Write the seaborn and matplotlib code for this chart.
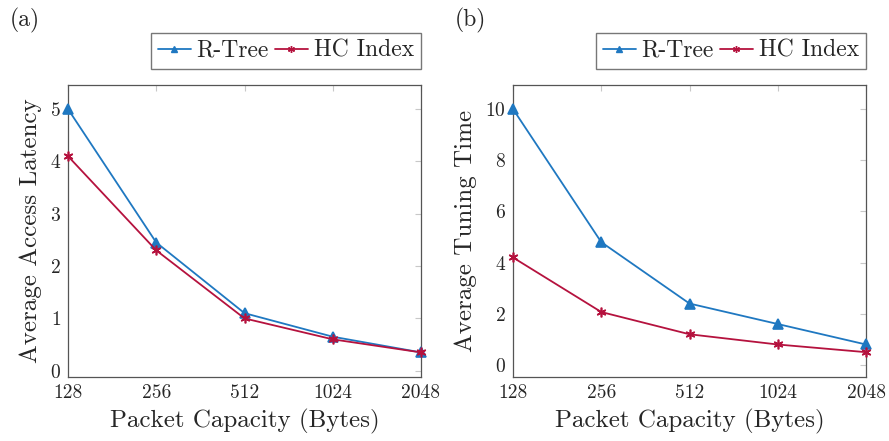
import pandas as pd
import matplotlib.pyplot as plt
import seaborn as sns

# packet capacities (bytes)
capacity = [128, 256, 512, 1024, 2048]

# (a) average access latency
latency_rtree = [5.0, 2.45, 1.1, 0.65, 0.35]
latency_hc = [4.1, 2.3, 1.0, 0.6, 0.35]

# (b) average tuning time
tuning_rtree = [10.0, 4.8, 2.4, 1.6, 0.8]
tuning_hc = [4.2, 2.07, 1.2, 0.8, 0.5]

series = ['R-Tree', 'HC Index']
colors = {'R-Tree': '#1f78c1', 'HC Index': '#b5123e'}
markers = {'R-Tree': '^', 'HC Index': (6, 2, 0)}

sns.set_style('white')
plt.rcParams['font.family'] = ['cmr10', 'DejaVu Serif']
plt.rcParams['mathtext.fontset'] = 'cm'
plt.rcParams['axes.formatter.use_mathtext'] = True

fig = plt.figure(figsize=(8.89, 4.41), dpi=100)
ax1 = fig.add_axes([68 / 889, 1 - 377 / 441, 353 / 889, 292 / 441])
ax2 = fig.add_axes([513 / 889, 1 - 377 / 441, 353 / 889, 292 / 441])

panels = [
    (ax1, {'R-Tree': latency_rtree, 'HC Index': latency_hc}, 'Average Access Latency',
     (-0.12, 5.46), [0, 1, 2, 3, 4, 5], '(a)', 10),
    (ax2, {'R-Tree': tuning_rtree, 'HC Index': tuning_hc}, 'Average Tuning Time',
     (-0.47, 10.94), [0, 2, 4, 6, 8, 10], '(b)', 455),
]

for ax, data, ylabel, ylim, yticks, tag, tag_x in panels:
    for m in series:
        df = pd.DataFrame({'capacity': capacity, 'value': data[m]})
        sns.lineplot(data=df, x='capacity', y='value', color=colors[m],
                     marker=markers[m], markersize=7, markeredgewidth=1.2,
                     markeredgecolor=colors[m], linewidth=1.3, ax=ax, label=m,
                     clip_on=False, zorder=3)
    ax.set_xscale('log', base=2)
    ax.set_xlim(128, 2048)
    ax.set_xticks(capacity)
    ax.set_xticklabels([str(c) for c in capacity])
    ax.minorticks_off()
    ax.set_ylim(*ylim)
    ax.set_yticks(yticks)
    ax.set_xlabel('Packet Capacity (Bytes)', fontsize=18, labelpad=5)
    ax.set_ylabel(ylabel, fontsize=18, labelpad=6)
    ax.tick_params(axis='both', labelsize=14, direction='in', length=4,
                   color='#c8c8c8', top=True, right=True, pad=5)
    for s in ax.spines.values():
        s.set_color('#555555')
        s.set_linewidth(0.9)
    handles = [plt.Line2D([], [], color=colors[m], marker=markers[m], markersize=5,
                          linewidth=1.3) for m in series]
    ax.legend(handles, series, loc='lower right', bbox_to_anchor=(1.0, 1.055),
              ncol=2, fontsize=17, frameon=True, fancybox=False, edgecolor='#555555',
              handlelength=1.4, handletextpad=0.25, columnspacing=0.25,
              borderpad=0.3, borderaxespad=0)
    fig.text(tag_x / 889, 1 - 20 / 441, tag, fontsize=17, va='center', ha='left')

fig.savefig('out.png', dpi=100)
